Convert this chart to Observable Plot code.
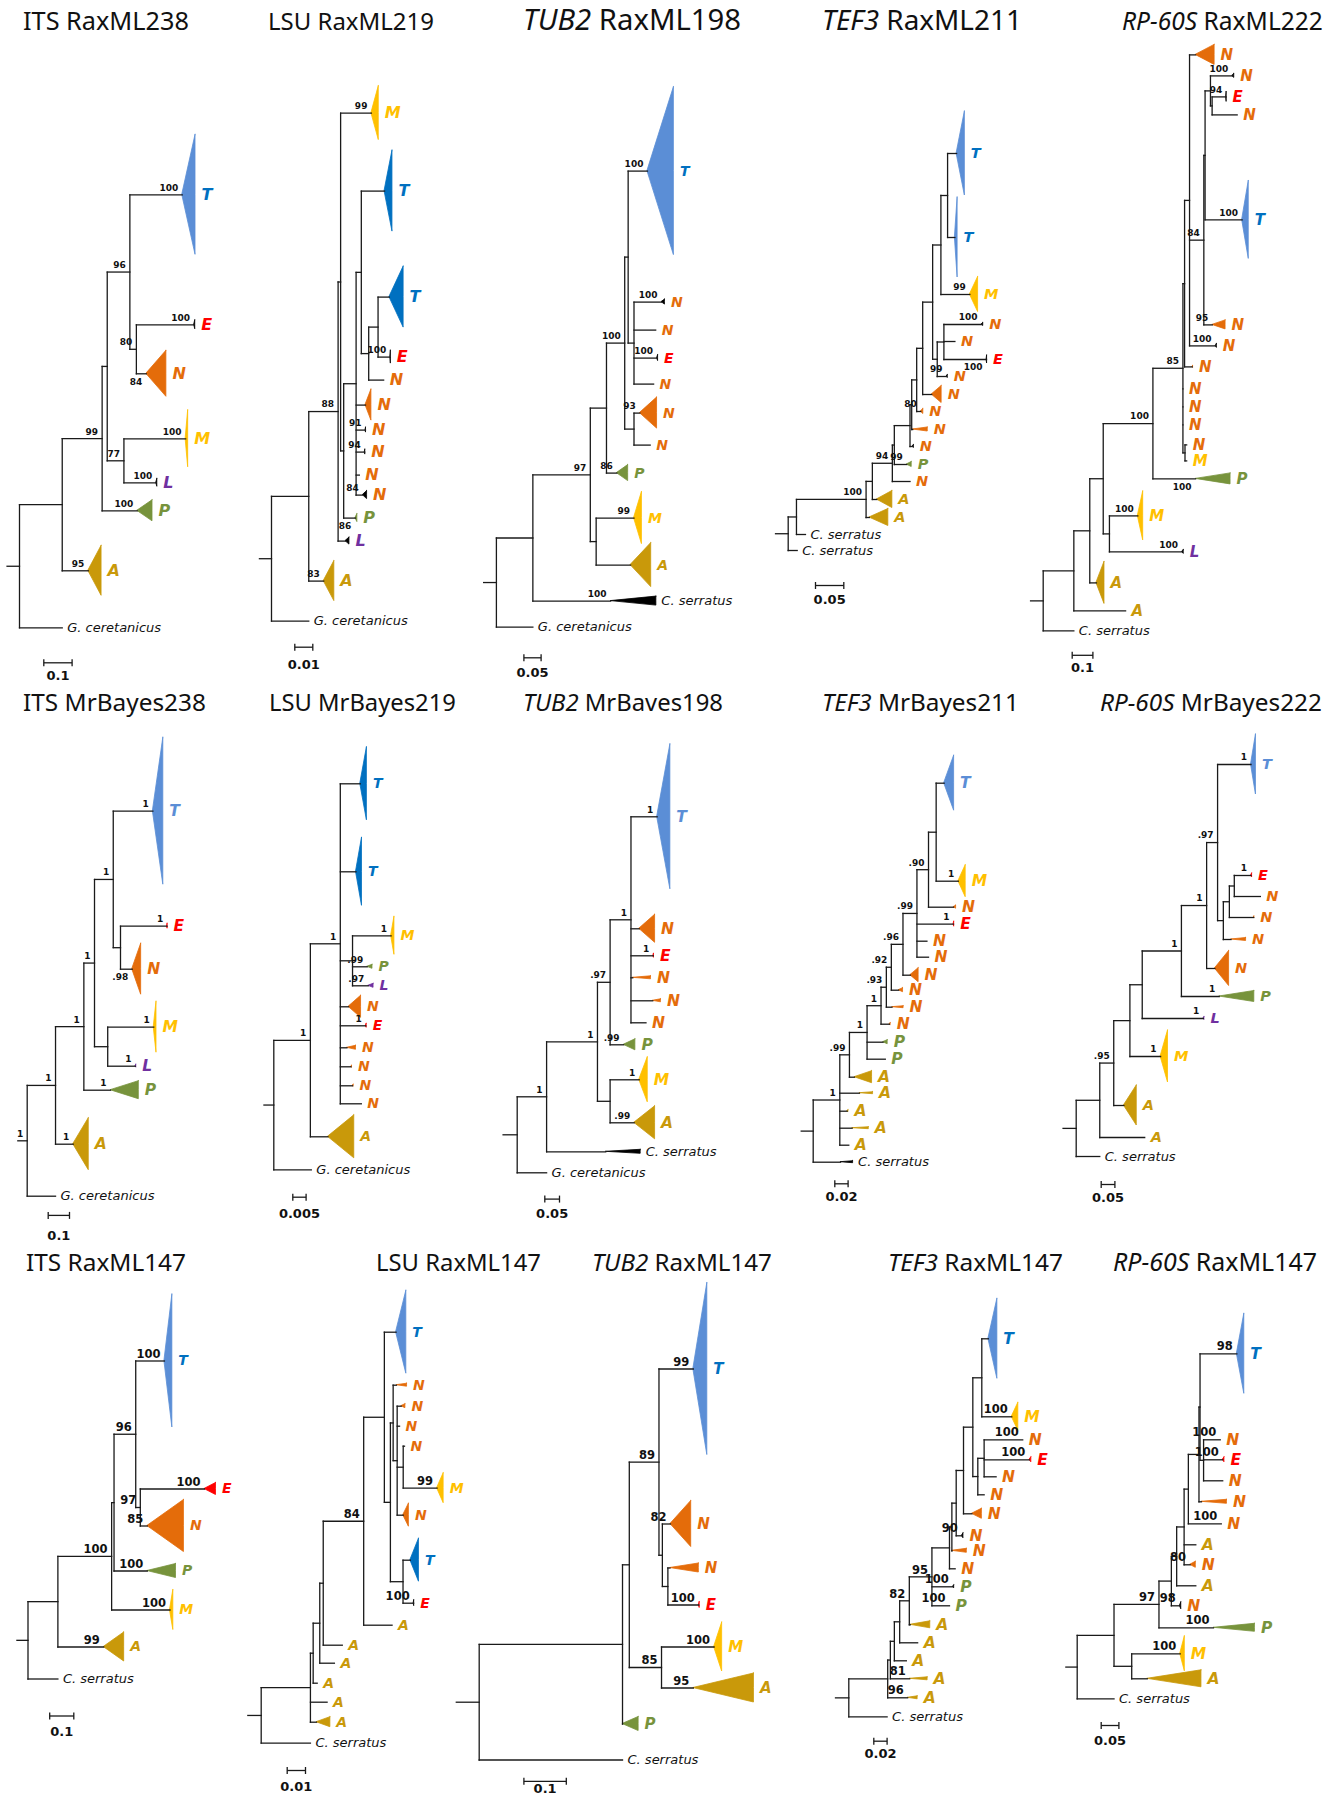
<!DOCTYPE html>
<html><head><meta charset="utf-8">
<script src="https://cdn.jsdelivr.net/npm/d3@7"></script>
<script src="https://cdn.jsdelivr.net/npm/@observablehq/plot@0.6"></script>
<style>
html,body{margin:0;padding:0;background:#fff;}
#page{position:relative;width:1341px;height:1795px;overflow:hidden;background:#fff;font-family:"DejaVu Sans",sans-serif;}
</style></head><body><div id="page"></div>
<script>
// ---------------- DATA ----------------
const genes = ["ITS","LSU","TUB2","TEF3","RP-60S","ITS","LSU","TUB2","TEF3","RP-60S","ITS","LSU","TUB2","TEF3","RP-60S"];
const geneItalic = [false,false,true,true,true,false,false,true,true,true,false,false,true,true,true];
const methods = ["RaxML238","RaxML219","RaxML198","RaxML211","RaxML222","MrBayes238","MrBayes219","MrBaves198","MrBayes211","MrBayes222","RaxML147","RaxML147","RaxML147","RaxML147","RaxML147"];
const scaleBars = [0.1,0.01,0.05,0.05,0.1, 0.1,0.005,0.05,0.02,0.05, 0.1,0.01,0.1,0.02,0.05];
// Newick trees; leaf = label|gap to previous tip|clade (triangle) height|clade depth|support|flags
const trees = [
"(((((T|0|120|.047|100:.185,(E|130|9|.004|100|k:.204,N|49|46|.071|84|b:.035)80:.023)96:.080,(M|65|57|.009|100:.218,L|44|8|.004|100|k:.114)77:.059):.018,P|28|21|.054|100:.124)99:.141,A|60|50|.047|95:.092):.151,G. ceretanicus|57:.151):.044;",
"((((M|0|54|.0041|99:.0171,(((T|78|81|.0044||D:.0129,((T|106|61|.0079||D:.0063,E|60|13|.0003|100|k:.0068):.0052,N|23:.0083):.0041):.0029,N|25|31|.0033:.0052,N|25|5|.0003|91|k:.0052,N|22|5|.0003|94|k:.0048,N|23:.0018,N|20|8|.0024|84|k:.0037):.0069,P|23|8|.0011|86|b:.0065):.0017):.0014,L|23|7|.0022||k:.0041)88:.0163,A|40|40|.0059|83:.0083):.0207,G. ceretanicus|40:.0207):.0067;",
"((((((T|0|168|.077|100:.056,(N|131|5|.010|100|k:.080,N|28:.063,E|28|6|.003|100|k:.067,N|26:.057):.017):.010,(N|29|31|.050|93:.017,N|32:.047):.027)100:.053,P|28|16|.033|86:.030):.047,(M|45|52|.023|99:.110,A|47|44|.060:.100):.017)97:.167,C. serratus|36|9|.133|100|k:.226):.106,G. ceretanicus|26:.106):.037;",
"(((((((((((((T|0|84|.0146:.0159,T|84|80|.0048:.0129):.0118,M|57|35|.0146|99:.0511):.0146,((N|30|3|.003|100|k:.0665,N|17:.0194,E|18|8|.001|100|bk:.0753):.0118,N|17|3|.002|99|k:.0166):.0081):.0176,N|18|17|.0176:.0159):.0106,N|17|5|.0046|80:.0071):.0088,N|18|4|.0265:.0018):.0030,N|17|3|.002||k:.0048):.0277,P|18|5|.0088|99:.0219):.0035,N|17:.0312)94:.0353,A|18|17|.0275:.0078):.0111,A|18|17|.0335:.0058)100:.123,C. serratus|17:.0159):.0146,C. serratus|16:.0159):.0224;",
"((((((((N|0|20|.092:.029,(((N|21|4|.01|100|k:.105,(E|21|10|.002|94|k:.068,N|18:.121):.008):.026,T|105|78|.032|100:.179):.006,N|105|9|.064|95:.041)84:.069,N|21|4|.006|100|k:.126):.024,N|21|2|.004:.037):.008,N|22:0,N|18:0,N|18:0,(N|20:.008,M|16:.008):.01)85:.145,P|18|11|.169|100|b:.206)100:.240,(M|37|49|.026|100:.137,L|36|4|.008|100|k:.351):.030):.065,A|31|42|.039:.032):.077,A|28:.250):.148,C. serratus|20:.148):.061;",
"(((((T|0|147|.049|1:.186,(E|115|5|.002|1:.219,N|43|51|.042|.98|b:.055):.034)1:.088,(M|58|51|.013|1:.216,L|39|3|.004|1:.130):.062)1:.050,P|24|18|.133|1:.125)1:.133,A|54|52|.073|1:.083)1:.133,G. ceretanicus|52:.133)1:.044;",
"(((T|0|73|.0025||D:.0075,T|88|68|.00225||D:.0059,(M|64|38|.00125|1:.0145,P|31|4|.002|.99:.0055,L|19|4|.002|.97:.0059):.0046,N|21|22|.0047:.0031,E|19|4|.0003|1:.0096,N|22|4|.0034:.0025,N|19|2|.0004:.004,N|19|2|.0004:.0046,N|18:.0079)1:.01125,A|33|43|.0099:.0066)1:.01375,G. ceretanicus|33:.0141):.0037;",
"(((((T|0|145|.045|1:.089,N|112|28|.054:.028,E|27|4|.002|1:.076,N|22|3|.062:.006,N|23|3|.028:.074,N|22:.051)1:.071,P|22|11|.040|.99:.046).97:.043,(M|35|45|.029|1:.099,A|43|33|.071|.99:.082):.043)1:.173,C. serratus|29|4|.119||k:.201)1:.100,G. ceretanicus|21:.100):.048;",
"(((((((((((T|0|55|.015:.012,M|98|32|.011|1:.0334):.0115,N|26|3|.004:.0375).90:.0174,E|17|5|.001|1:.055,N|17:.015,N|16:.0174).99:.021,N|18|14|.0125:.011).96:.0175,N|15|4|.0066:.011).92:.0075,N|17|2|.0174:.0085).93:.008,N|17|2|.002:.0125)1:.021,P|18|4|.007:.024,P|17:.0274)1:.0265,A|18|12|.0265:.0075).99:.0145,A|16|2|.0205:.0295,A|18|2|.002:.011,A|17|2|.025:.0186,A|17:.0135)1:.040,C. serratus|17|2|.019||k:.041):.018;",
"((((((((T|0|60|.018|1:.122,(((E|111|4|.004|1:.061,N|21:.095):.018,N|21|2|.002:.089):.022,N|22|3|.055:.028):.021).97:.040,N|29|35|.052:.030)1:.092,P|28|11|.128|1:.138)1:.143,L|22|3|.004|1:.223):.045,M|38|52|.027|1:.112):.059,A|49|40|.047:.037).95:.051,A|32:.164):.086,C. serratus|19:.086):.048;",
"(((((T|0|133|.033|100:.119,(E|128|12|.048|100:.266,N|37|52|.152|85:.029)97:.019)96:.090,P|45|14|.119|100:.138):.010,M|39|40|.014|100:.242)100:.223,A|37|29|.085|99:.190):.124,C. serratus|32:.124):.046;",
"(((((((T|0|83|.0056:.0064,((N|53|3|.0058:.0018,(N|21|4|.0023:.0022,N|20:.0013,(N|20:.0007,M|42|30|.0036|99:.0185):.0033,N|27|23|.0031:.0033):.0022):.0015,(T|45|43|.0047||D:.004,E|43|6|.0003|100|k:.0058):.0069):.0033):.0113,A|22:.0155)84:.0221,A|20:.0104):.0019,A|18:.008):.0036,A|20:.0022):.0015,A|19:.0091,A|20|10|.0076:.0033):.0269,C. serratus|21:.0269):.0073;",
"((((T|0|172|.033|99:.081,(N|155|46|.049|82:.019,(N|44|9|.068:.005,E|37|6|.002|100:.073):.013):.008)89:.070,(M|42|49|.019|100:.124,A|41|29|.143|95:.075)85:.076):.016,P|36|14|.038:0):.338,C. serratus|36:.338):.054;",
"(((((((((((((T|0|80|.0135:.0099,M|78|28|.0099|100:.045):.0135,((N|23|||100:.058,E|20|5|.003|100:.068,N|17:.018):.0095,N|18:.0095):.0075):.014,N|19|10|.015:.0126):.011,N|22|5|.0024|90|k:.0085):.0065,N|15|4|.0225:0):.0036,N|18:.0085):.0264,P|18|3|.002|100|k:.0315,P|19|||100:.0264)95:.034,A|19|7|.030:.0015)82:.0145,A|18:.027):.008,A|18:.018):.006,A|18|3|.027|81:.029):.004,A|19|3|.015|96:.030):.0585,C. serratus|19:.0576):.020;",
"(((((((((T|0|80|.021|98:.104,(N|86|||100:.047,E|20|5|.005|100:.054,N|21:.054):.010):.003,N|21|4|.072:.007):.030,N|22|||100:.093):.012,A|21:.033,N|20|6|.016|80:.017):.021,A|21:.054):.015,N|20|7|.004|98|k:.024):.035,P|22|8|.117|100:.154)97:.127,(M|26|35|.013|100:.137,A|25|17|.153:.044):.050):.104,C. serratus|20:.104):.032;"
];
const cladeColors = {T:"#5B8ED6", E:"#FF0000", N:"#E46C0A", M:"#FFC000", L:"#7030A0", P:"#77933C", A:"#C9990A"};
const darkBlue = "#0070C0";

// ---------------- LAYOUT (positions / styles) ----------------
const rowTitleBaseline = [30, 711, 1271];
const rowSupportSize = [9, 9, 11.5];
const layout = [
 {x0:19,    barPx:28.3, y0:194.3, barX:43.3,  barY:662.3,  barDy:13, tx:23,   tw:166, row:0, fs:16},
 {x0:271,   barPx:18,   y0:112.6, barX:294.3, barY:646.7,  barDy:18, tx:268,  tw:166, row:0, fs:16},
 {x0:495.9, barPx:17.2, y0:170.6, barX:523.4, barY:657.3,  barDy:15, tx:523,  tw:218, row:0, fs:14},
 {x0:787.7, barPx:28.3, y0:153,   barX:815,   barY:585,    barDy:14, tx:822,  tw:200, row:0, fs:14.5},
 {x0:1042.7,barPx:20.7, y0:54.4,  barX:1071.7,barY:654.8,  barDy:13, tx:1122, tw:201, row:0, fs:15},
 {x0:26.7,  barPx:21.3, y0:810.7, barX:47.7,  barY:1214.9, barDy:20, tx:23,   tw:183, row:1, fs:15.5, tLight:true},
 {x0:273.3, barPx:13.3, y0:783.3, barX:292.3, barY:1196.7, barDy:17, tx:269,  tw:187, row:1, fs:14},
 {x0:516.7, barPx:14.7, y0:816.3, barX:544.3, barY:1198.6, barDy:15, tx:523,  tw:200, row:1, fs:15.5, tLight:true},
 {x0:812.7, barPx:13.3, y0:782.7, barX:834.3, barY:1183.3, barDy:13, tx:822,  tw:197, row:1, fs:15.5, tLight:true},
 {x0:1075.7,barPx:13.7, y0:764,   barX:1100.7,barY:1184,   barDy:13, tx:1100, tw:222, row:1, fs:14.5, tLight:true},
 {x0:27.5,  barPx:24.1, y0:1360.5,barX:49.2,  barY:1715.5, barDy:16, tx:26,   tw:160, row:2, fs:14},
 {x0:260.7, barPx:18.3, y0:1331.7,barX:286.7, barY:1770,   barDy:16, tx:376,  tw:165, row:2, fs:14},
 {x0:478.7, barPx:42.4, y0:1368.5,barX:523.4, barY:1780.8, barDy:8,  tx:592,  tw:180, row:2, fs:15},
 {x0:848.3, barPx:13.3, y0:1338.3,barX:873.3, barY:1740.7, barDy:13, tx:888,  tw:175, row:2, fs:15.5},
 {x0:1076.7,barPx:17.7, y0:1353.3,barX:1100.7,barY:1725,   barDy:15, tx:1113, tw:204, row:2, fs:15.5}
];

// ---------------- PARSING & TREE LAYOUT ----------------
function parseNewick(s) {
  let i = 0;
  function node() {
    const n = {children: []};
    if (s[i] === "(") {
      i++;
      n.children.push(node());
      while (s[i] === ",") { i++; n.children.push(node()); }
      i++;
      let lab = "";
      while (i < s.length && !":,);".includes(s[i])) lab += s[i++];
      n.support = lab.trim();
    } else {
      let name = "";
      while (i < s.length && !":,);".includes(s[i])) name += s[i++];
      const f = name.split("|");
      n.label = f[0]; n.dy = +f[1] || 0; n.h = +f[2] || 0; n.d = +f[3] || 0;
      n.support = f[4] || ""; n.flags = f[5] || "";
    }
    n.len = 0;
    if (s[i] === ":") { i++; let num = ""; while (i < s.length && !",);".includes(s[i])) num += s[i++]; n.len = +num; }
    n.children.forEach(c => c.parent = n);
    return n;
  }
  return node();
}

const page = document.getElementById("page");
const NS = "http://www.w3.org/2000/svg";

trees.forEach((nwk, p) => {
  const L = layout[p];
  const bar = scaleBars[p];
  const root = parseNewick(nwk);
  const nodes = [];
  (function setX(n, x) { n.x = x; nodes.push(n); n.children.forEach(c => setX(c, x + c.len)); })(root, 0);
  let acc = 0;
  (function setY(n) {
    if (!n.children.length) { acc += n.dy; n.y = acc; }
    else { n.children.forEach(setY); n.y = (n.children[0].y + n.children[n.children.length - 1].y) / 2; }
  })(root);

  const segs = [{x1: -root.len, x2: 0, y1: root.y, y2: root.y}];
  const tris = [], clades = [], species = [], supA = [], supB = [];
  nodes.forEach((n, k) => {
    if (n.parent) segs.push({x1: n.parent.x, x2: n.x, y1: n.y, y2: n.y});
    if (n.children.length) {
      segs.push({x1: n.x, x2: n.x, y1: n.children[0].y, y2: n.children[n.children.length - 1].y});
      if (n.support) supA.push({x: n.x, y: n.y, t: n.support});
    } else {
      const f = n.flags;
      const tc = f.includes("k") ? "#000" : f.includes("D") ? darkBlue : (cladeColors[n.label] || "#000");
      if (n.h > 0 || n.d > 0) {
        tris.push({id: k, y: n.y - n.h / 2, x1: n.x + n.d, x2: n.x + n.d, c: tc});
        tris.push({id: k, y: n.y, x1: n.x, x2: n.x + n.d, c: tc});
        tris.push({id: k, y: n.y + n.h / 2, x1: n.x + n.d, x2: n.x + n.d, c: tc});
      }
      if (n.label.length <= 2) {
        let lc = cladeColors[n.label] || "#000";
        if (n.label === "T") lc = (L.tLight && !f.includes("D")) ? cladeColors.T : darkBlue;
        clades.push({x: n.x + n.d, y: n.y, t: n.label, c: lc});
      } else {
        species.push({x: n.x + n.d, y: n.y, t: n.label});
      }
      if (n.support) (f.includes("b") ? supB : supA).push({x: n.x, y: n.y, t: n.support});
    }
  });

  const u0 = (L.barX - L.x0) / L.barPx * bar, u1 = u0 + bar, yb = L.barY - L.y0;
  const barSegs = [
    {x1: u0, x2: u1, y1: yb, y2: yb},
    {x1: u0, x2: u0, y1: yb - 3.5, y2: yb + 3.5},
    {x1: u1, x2: u1, y1: yb - 3.5, y2: yb + 3.5}
  ];
  const ss = rowSupportSize[L.row];
  const font = "DejaVu Sans";

  const svg = Plot.plot({
    width: 1341, height: 1795, margin: 0,
    x: {domain: [0, bar], range: [L.x0, L.x0 + L.barPx], axis: null},
    y: {domain: [0, 100], range: [L.y0, L.y0 + 100], axis: null},
    color: {type: "identity"},
    style: {background: "transparent", overflow: "visible", fontFamily: font},
    marks: [
      Plot.areaX(tris, {y: "y", x1: "x1", x2: "x2", z: "id", fill: "c", stroke: "c", strokeWidth: 0.8}),
      Plot.link(segs, {x1: "x1", y1: "y1", x2: "x2", y2: "y2", stroke: "#1a1a1a", strokeWidth: 1.3, strokeLinecap: "square"}),
      Plot.text(clades, {x: "x", y: "y", text: "t", fill: "c", dx: 6, textAnchor: "start", fontWeight: "bold", fontStyle: "italic", fontSize: L.fs, fontFamily: font}),
      Plot.text(species, {x: "x", y: "y", text: "t", fill: "#111", dx: 5, textAnchor: "start", fontStyle: "italic", fontSize: 13, fontFamily: font}),
      Plot.text(supA, {x: "x", y: "y", text: "t", fill: "#111", dx: -4, dy: -7, textAnchor: "end", fontWeight: "bold", fontSize: ss, fontFamily: font}),
      Plot.text(supB, {x: "x", y: "y", text: "t", fill: "#111", dx: -4, dy: 8, textAnchor: "end", fontWeight: "bold", fontSize: ss, fontFamily: font}),
      Plot.link(barSegs, {x1: "x1", y1: "y1", x2: "x2", y2: "y2", stroke: "#1a1a1a", strokeWidth: 1.3}),
      Plot.text([{x: (u0 + u1) / 2, y: yb, t: String(bar)}], {x: "x", y: "y", text: "t", dy: L.barDy, fill: "#111", fontWeight: "bold", fontSize: 13, fontFamily: font})
    ]
  });
  svg.style.position = "absolute";
  svg.style.left = "0px";
  svg.style.top = "0px";
  svg.style.maxWidth = "none";
  page.appendChild(svg);
});

// ---------------- PANEL TITLES ----------------
const tsvg = document.createElementNS(NS, "svg");
tsvg.setAttribute("width", 1341); tsvg.setAttribute("height", 1795);
tsvg.style.position = "absolute"; tsvg.style.left = "0px"; tsvg.style.top = "0px";
page.appendChild(tsvg);
layout.forEach((L, p) => {
  const t = document.createElementNS(NS, "text");
  t.setAttribute("x", L.tx);
  t.setAttribute("y", rowTitleBaseline[L.row]);
  t.setAttribute("font-family", "Noto Sans, DejaVu Sans, sans-serif");
  t.setAttribute("font-size", 25);
  t.setAttribute("fill", "#111");
  const g = document.createElementNS(NS, "tspan");
  g.textContent = genes[p];
  if (geneItalic[p]) g.setAttribute("font-style", "italic");
  const m = document.createElementNS(NS, "tspan");
  m.textContent = "\u00a0" + methods[p];
  t.appendChild(g); t.appendChild(m);
  tsvg.appendChild(t);
  const w = t.getComputedTextLength();
  if (w > 0) t.setAttribute("font-size", (25 * L.tw / w).toFixed(2));
});
</script></body></html>
